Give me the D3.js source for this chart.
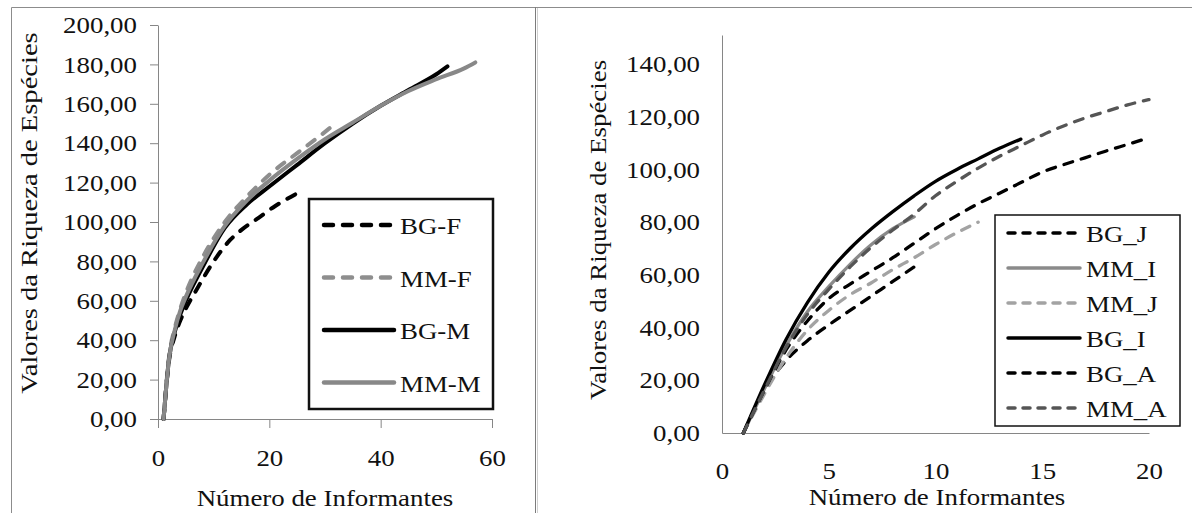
<!DOCTYPE html>
<html>
<head>
<meta charset="utf-8">
<script src="https://cdnjs.cloudflare.com/ajax/libs/d3/7.8.5/d3.min.js"></script>
<style>
body { margin: 0; background: #fff; }
svg text { font-family: "Liberation Serif", "Times New Roman", serif; fill: #111; }
</style>
</head>
<body>
<div id="chart"></div>
<script>
// ---- data, left chart (sexo) ----
var leftNames = ["BG-F", "MM-F", "BG-M", "MM-M"];
var bgF_x = [1, 2, 3, 4, 5, 7, 10, 13, 15, 18, 21, 24, 26];
var bgF_y = [0, 30, 42, 50, 56, 66, 80, 91, 96, 102, 108, 113, 116];
var mmF_x = [1, 2, 3, 4, 5, 8, 12, 16, 20, 25, 29, 31];
var mmF_y = [0, 32, 46, 56, 64, 82, 100, 113, 124, 135, 143.5, 148];
var bgM_x = [1, 2, 3, 4, 5, 8, 12, 16, 20, 25, 30, 35, 40, 45, 50, 52];
var bgM_y = [0, 31, 44, 53, 60, 77, 97, 109, 118, 129, 140, 150, 159, 167, 175, 179];
var mmM_x = [1, 2, 3, 4, 5, 8, 12, 16, 20, 25, 30, 35, 40, 45, 50, 55, 57];
var mmM_y = [0, 31, 45, 55, 62, 79, 98, 111, 121, 132, 142, 150.5, 159, 166.5, 172.5, 178, 181];
var leftXTicks = [0, 20, 40, 60];
var leftYTicks = [0, 20, 40, 60, 80, 100, 120, 140, 160, 180, 200];

// ---- data, right chart (idade) ----
var rightNames = ["BG_J", "MM_I", "MM_J", "BG_I", "BG_A", "MM_A"];
var rightX = [1, 2, 3, 4, 5, 6, 7, 8, 9, 10, 11, 12, 13, 14, 15, 16, 17, 18, 19, 20];
var bgJ = [0, 16.5, 27.5, 35, 41, 46.5, 52, 57.5, 63];
var mmI = [0, 17, 33, 46, 55.5, 64, 71.5, 77.5, 82];
var mmJ = [0, 15, 28.5, 39, 46.5, 52.5, 57, 62, 66.5, 71.5, 76, 80];
var bgI = [0, 18.5, 35.5, 49.5, 61, 70, 77.5, 84, 90, 95.5, 100, 104, 108, 111.5];
var bgA = [0, 16.5, 31.5, 42.5, 51, 56.5, 61.5, 66.5, 72, 77.5, 82.5, 87, 91, 95, 99, 101.8, 104.4, 107, 109.5, 112];
var mmA = [0, 16.5, 32.5, 45, 54.5, 63, 70.5, 77, 83, 90, 95.5, 100.5, 105, 109, 113, 116.5, 119.5, 122, 124.5, 126.5];
var rightXTicks = [0, 5, 10, 15, 20];
var rightYTicks = [0, 20, 40, 60, 80, 100, 120, 140];

var yTitle = "Valores da Riqueza de Espécies";
var xTitle = "Número de Informantes";

// styles
var leftStyle = [
	{ color: "#000", dash: "9,10" },
	{ color: "#8e8e8e", dash: "9,10" },
	{ color: "#000", dash: null },
	{ color: "#888", dash: null }
];
var rightStyle = [
	{ color: "#000", dash: "7,8" },
	{ color: "#8a8a8a", dash: null },
	{ color: "#a3a3a3", dash: "7,8" },
	{ color: "#000", dash: null },
	{ color: "#000", dash: "7,8" },
	{ color: "#555", dash: "7,8" }
];
var plotDashR = "9,9";
var axisColor = "#868686";
var fontFam = "'Liberation Serif', 'Times New Roman', serif";
var fs = 24, sx = 1.12;   // font size and horizontal stretch of the text

var fmt = d3.formatLocale({ decimal: ",", thousands: ".", grouping: [3], currency: ["", ""] }).format(".2f");

var svg = d3.select("#chart")
	.append("svg")
	.attr("width", 1192)
	.attr("height", 513)
	.style("font-family", fontFam);

// frame of the two figures
svg.append("path")
	.attr("d", "M11.5,513V7.5H1192")
	.attr("fill", "none")
	.attr("stroke", "#8c8c8c");
svg.append("line")
	.attr("x1", 535.5).attr("x2", 535.5).attr("y1", 7).attr("y2", 513)
	.attr("stroke", "#7c7c7c");
svg.append("line")
	.attr("x1", 537.5).attr("x2", 537.5).attr("y1", 8).attr("y2", 513)
	.attr("stroke", "#d0d0d0");

function stext(x, y, str, anchor, rot, k) {
	return svg.append("text")
		.attr("transform", "translate(" + x + "," + y + ")" + (rot ? " rotate(-90)" : "") + " scale(" + (k || sx) + ",1)")
		.attr("text-anchor", anchor)
		.attr("font-size", fs)
		.style("font-family", fontFam)
		.text(str);
}

function styleAxis(g) {
	g.attr("font-family", null).attr("font-size", fs);
	g.select(".domain").attr("stroke", axisColor);
	g.selectAll(".tick line").attr("stroke", axisColor);
	g.selectAll(".tick text").attr("fill", "#111").style("font-family", fontFam);
}

function drawLegend(x, y, w, h, names, styles, x1, x2, y0, step, lw, bw) {
	svg.append("rect")
		.attr("x", x).attr("y", y).attr("width", w).attr("height", h)
		.attr("fill", "#fff").attr("stroke", "#111").attr("stroke-width", bw);
	names.forEach(function(n, i) {
		var ly = y0 + i * step;
		svg.append("line")
			.attr("x1", x1).attr("x2", x2).attr("y1", ly).attr("y2", ly)
			.attr("stroke", styles[i].color)
			.attr("stroke-width", lw)
			.attr("stroke-linecap", "round")
			.attr("stroke-dasharray", styles[i].dash);
		stext(x2 + 6, ly + 9, n, "start", false);
	});
}

// ================= left chart =================
var xL = d3.scaleLinear().domain([0, 60]).range([158, 492]);
var yL = d3.scaleLinear().domain([0, 200]).range([419, 25]);

var gx = svg.append("g")
	.attr("transform", "translate(0,419)")
	.call(d3.axisBottom(xL).tickValues(leftXTicks).tickSize(9).tickSizeOuter(0).tickPadding(21));
styleAxis(gx);
gx.selectAll(".tick text").attr("transform", "scale(" + sx + ",1)");

var gy = svg.append("g")
	.attr("transform", "translate(158,0)")
	.call(d3.axisLeft(yL).tickValues(leftYTicks).tickSize(8).tickSizeOuter(0).tickPadding(13).tickFormat(fmt));
styleAxis(gy);
gy.selectAll(".tick text").attr("transform", "scale(" + sx + ",1)").attr("x", -21 / sx);

var lineL = d3.line()
	.x(function(d) { return xL(d[0]); })
	.y(function(d) { return yL(d[1]); })
	.curve(d3.curveMonotoneX);

var leftSeries = [d3.zip(bgF_x, bgF_y), d3.zip(mmF_x, mmF_y), d3.zip(bgM_x, bgM_y), d3.zip(mmM_x, mmM_y)];
svg.selectAll(".lineL")
	.data(leftSeries)
	.enter()
	.append("path")
	.attr("class", "lineL")
	.attr("d", lineL)
	.attr("fill", "none")
	.attr("stroke", function(d, i) { return leftStyle[i].color; })
	.attr("stroke-width", 4)
	.attr("stroke-linecap", "round")
	.attr("stroke-dasharray", function(d, i) { return leftStyle[i].dash; });

stext(37, 213, yTitle, "middle", true, 1.19);
stext(325, 506, xTitle, "middle", false);

drawLegend(309, 199, 184, 210, leftNames, leftStyle, 324, 394, 225, 52.5, 4.5, 2.5);

// ================= right chart =================
var xR = d3.scaleLinear().domain([0, 20]).range([722, 1149]);
var yR = d3.scaleLinear().domain([0, 151]).range([433, 35]);

var gx2 = svg.append("g")
	.attr("transform", "translate(0,433)")
	.call(d3.axisBottom(xR).tickValues(rightXTicks).tickSize(0).tickPadding(29));
styleAxis(gx2);
gx2.selectAll(".tick text").attr("transform", "scale(" + sx + ",1)");

var gy2 = svg.append("g")
	.attr("transform", "translate(722,0)")
	.call(d3.axisLeft(yR).tickValues(rightYTicks).tickSize(0).tickPadding(22).tickFormat(fmt));
styleAxis(gy2);
gy2.selectAll(".tick text").attr("transform", "scale(" + sx + ",1)").attr("x", -22 / sx);

var lineR = d3.line()
	.x(function(d) { return xR(d[0]); })
	.y(function(d) { return yR(d[1]); })
	.curve(d3.curveMonotoneX);

var rightSeries = [bgJ, mmI, mmJ, bgI, bgA, mmA].map(function(ys) {
	return d3.zip(rightX.slice(0, ys.length), ys);
});
svg.selectAll(".lineR")
	.data(rightSeries)
	.enter()
	.append("path")
	.attr("class", "lineR")
	.attr("d", lineR)
	.attr("fill", "none")
	.attr("stroke", function(d, i) { return rightStyle[i].color; })
	.attr("stroke-width", 3.3)
	.attr("stroke-linecap", "round")
	.attr("stroke-dasharray", function(d, i) { return rightStyle[i].dash ? plotDashR : null; });

stext(606, 230, yTitle, "middle", true);
stext(937, 505, xTitle, "middle", false);

drawLegend(995, 215, 185, 211, rightNames, rightStyle, 1008, 1080, 233, 35, 3.5, 1.5);
</script>
</body>
</html>
